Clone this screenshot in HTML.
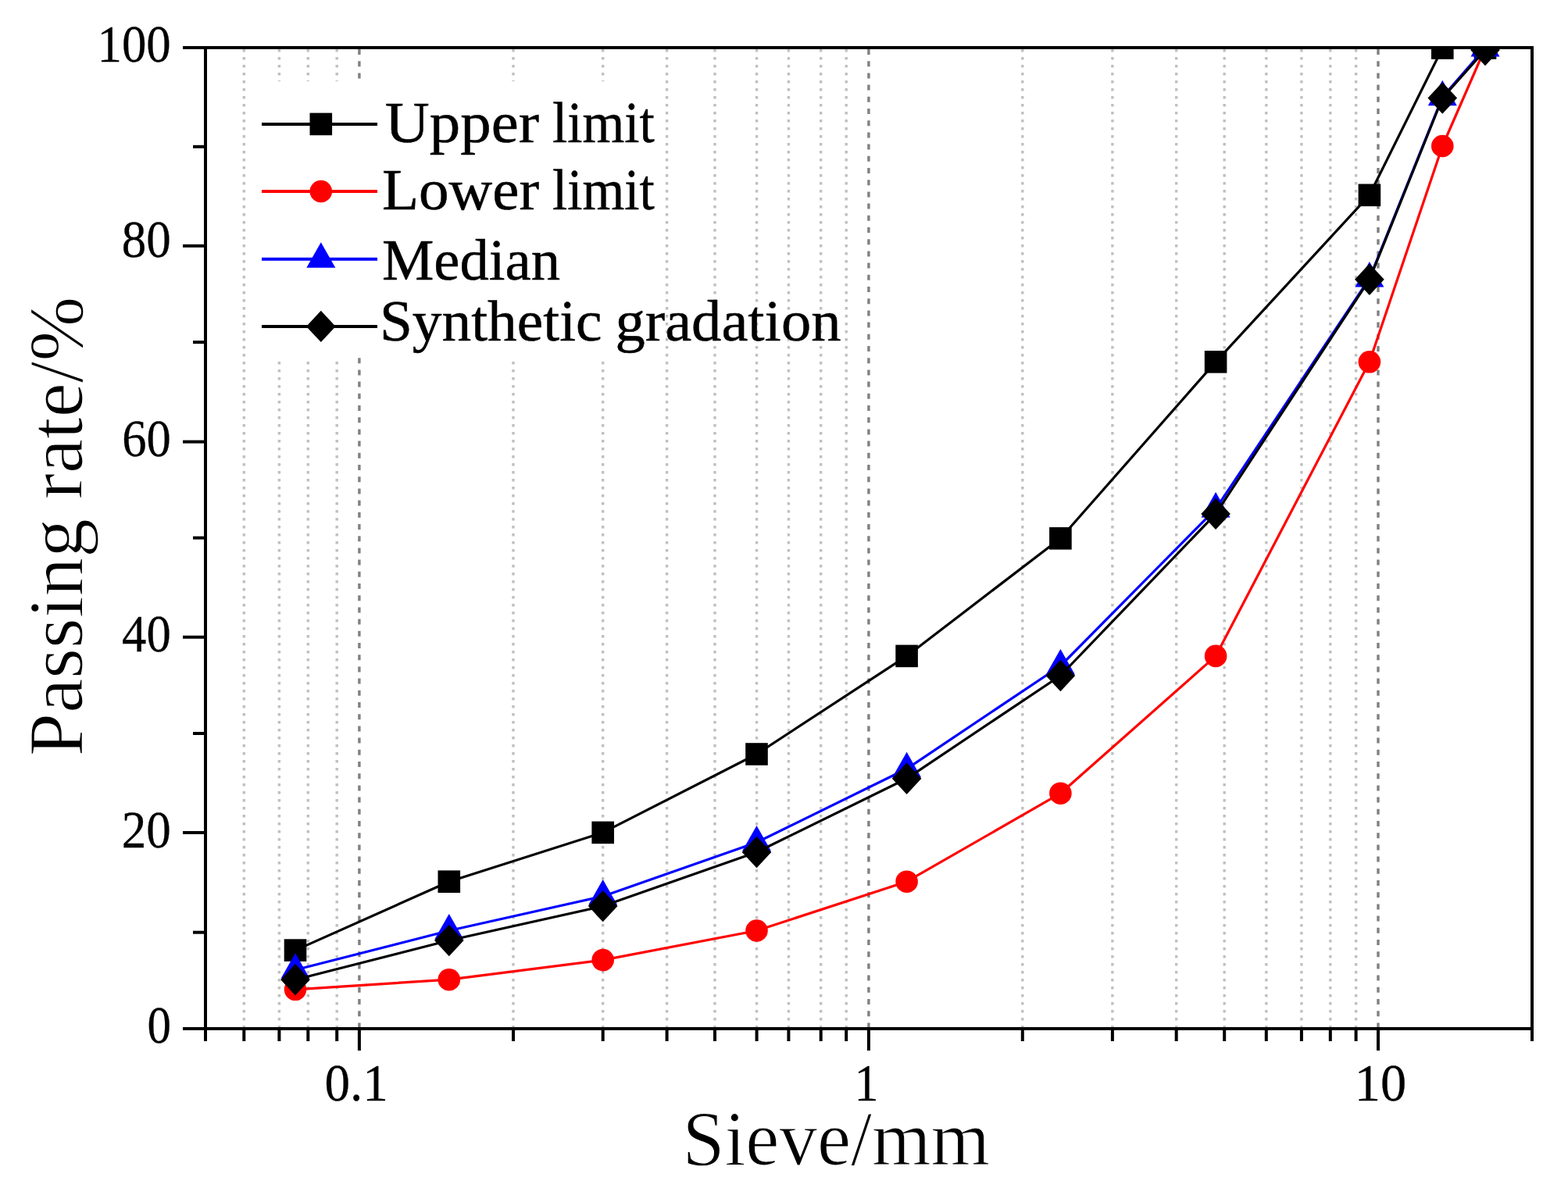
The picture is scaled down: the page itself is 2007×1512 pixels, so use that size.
<!DOCTYPE html>
<html><head><meta charset="utf-8"><title>Gradation curve</title>
<style>
html,body{margin:0;padding:0;background:#fff;}
body{width:2007px;height:1512px;overflow:hidden;}
svg{display:block;}
text{font-family:"Liberation Serif","Times New Roman",serif;fill:#000;}
</style></head><body>

<svg width="2007" height="1512" viewBox="0 0 2007 1512">
<rect width="2007" height="1512" fill="#fff"/>
<defs><clipPath id="pa"><rect x="263" y="61" width="1698" height="1256"/></clipPath></defs>
<g stroke-width="3.4" fill="none"><line x1="312.3" y1="63" x2="312.3" y2="1315" stroke="#c0c0c0" stroke-dasharray="3.4 6.6"/><line x1="357.4" y1="63" x2="357.4" y2="1315" stroke="#c0c0c0" stroke-dasharray="3.4 6.6"/><line x1="394.3" y1="63" x2="394.3" y2="1315" stroke="#c0c0c0" stroke-dasharray="3.4 6.6"/><line x1="431.2" y1="63" x2="431.2" y2="1315" stroke="#c0c0c0" stroke-dasharray="3.4 6.6"/><line x1="657" y1="63" x2="657" y2="1315" stroke="#c0c0c0" stroke-dasharray="3.4 6.6"/><line x1="771.7" y1="63" x2="771.7" y2="1315" stroke="#c0c0c0" stroke-dasharray="3.4 6.6"/><line x1="853.6" y1="63" x2="853.6" y2="1315" stroke="#c0c0c0" stroke-dasharray="3.4 6.6"/><line x1="915" y1="63" x2="915" y2="1315" stroke="#c0c0c0" stroke-dasharray="3.4 6.6"/><line x1="968.6" y1="63" x2="968.6" y2="1315" stroke="#c0c0c0" stroke-dasharray="3.4 6.6"/><line x1="1009.4" y1="63" x2="1009.4" y2="1315" stroke="#c0c0c0" stroke-dasharray="3.4 6.6"/><line x1="1050.7" y1="63" x2="1050.7" y2="1315" stroke="#c0c0c0" stroke-dasharray="3.4 6.6"/><line x1="1083.2" y1="63" x2="1083.2" y2="1315" stroke="#c0c0c0" stroke-dasharray="3.4 6.6"/><line x1="1308.8" y1="63" x2="1308.8" y2="1315" stroke="#c0c0c0" stroke-dasharray="3.4 6.6"/><line x1="1423.9" y1="63" x2="1423.9" y2="1315" stroke="#c0c0c0" stroke-dasharray="3.4 6.6"/><line x1="1505.7" y1="63" x2="1505.7" y2="1315" stroke="#c0c0c0" stroke-dasharray="3.4 6.6"/><line x1="1567.2" y1="63" x2="1567.2" y2="1315" stroke="#c0c0c0" stroke-dasharray="3.4 6.6"/><line x1="1620.8" y1="63" x2="1620.8" y2="1315" stroke="#c0c0c0" stroke-dasharray="3.4 6.6"/><line x1="1665.9" y1="63" x2="1665.9" y2="1315" stroke="#c0c0c0" stroke-dasharray="3.4 6.6"/><line x1="1702.8" y1="63" x2="1702.8" y2="1315" stroke="#c0c0c0" stroke-dasharray="3.4 6.6"/><line x1="1735.6" y1="63" x2="1735.6" y2="1315" stroke="#c0c0c0" stroke-dasharray="3.4 6.6"/><line x1="459.9" y1="63" x2="459.9" y2="1315" stroke="#808080" stroke-dasharray="7 8.2"/><line x1="1111.9" y1="63" x2="1111.9" y2="1315" stroke="#808080" stroke-dasharray="7 8.2"/><line x1="1764" y1="63" x2="1764" y2="1315" stroke="#808080" stroke-dasharray="7 8.2"/></g>
<rect x="330" y="104" width="515" height="353" fill="#fff"/>
<g clip-path="url(#pa)"><polyline points="378,1216.6 574.8,1128.7 771.7,1065.9 968.5,965.5 1160.6,839.9 1357.4,689.2 1556.1,463.3 1752.9,249.8 1846.3,61.5 1901,61.5" fill="none" stroke="#000" stroke-width="3.2" stroke-linejoin="round"/><rect x="363.7" y="1202.3" width="28.6" height="28.6" fill="#000"/><rect x="560.5" y="1114.4" width="28.6" height="28.6" fill="#000"/><rect x="757.4" y="1051.6" width="28.6" height="28.6" fill="#000"/><rect x="954.2" y="951.2" width="28.6" height="28.6" fill="#000"/><rect x="1146.3" y="825.6" width="28.6" height="28.6" fill="#000"/><rect x="1343.1" y="675" width="28.6" height="28.6" fill="#000"/><rect x="1541.8" y="449" width="28.6" height="28.6" fill="#000"/><rect x="1738.6" y="235.5" width="28.6" height="28.6" fill="#000"/><rect x="1832" y="47.2" width="28.6" height="28.6" fill="#000"/><rect x="1886.7" y="47.2" width="28.6" height="28.6" fill="#000"/><polyline points="378,1266.8 574.8,1254.2 771.7,1229.1 968.5,1191.5 1160.6,1128.7 1357.4,1015.7 1556.1,839.9 1752.9,463.3 1846.3,187 1901,61.5" fill="none" stroke="#f00" stroke-width="3.2" stroke-linejoin="round"/><circle cx="378" cy="1266.8" r="14.3" fill="#f00"/><circle cx="574.8" cy="1254.2" r="14.3" fill="#f00"/><circle cx="771.7" cy="1229.1" r="14.3" fill="#f00"/><circle cx="968.5" cy="1191.5" r="14.3" fill="#f00"/><circle cx="1160.6" cy="1128.7" r="14.3" fill="#f00"/><circle cx="1357.4" cy="1015.7" r="14.3" fill="#f00"/><circle cx="1556.1" cy="839.9" r="14.3" fill="#f00"/><circle cx="1752.9" cy="463.3" r="14.3" fill="#f00"/><circle cx="1846.3" cy="187" r="14.3" fill="#f00"/><circle cx="1901" cy="61.5" r="14.3" fill="#f00"/><polyline points="378,1241.7 574.8,1191.5 771.7,1147.5 968.5,1078.5 1160.6,984.3 1357.4,852.5 1556.1,651.6 1752.9,356.5 1846.3,124.3 1901,61.5" fill="none" stroke="#00f" stroke-width="3.2" stroke-linejoin="round"/><polygon points="378,1220.2 396.5,1252.7 359.5,1252.7" fill="#00f"/><polygon points="574.8,1170 593.3,1202.5 556.3,1202.5" fill="#00f"/><polygon points="771.7,1126 790.2,1158.5 753.2,1158.5" fill="#00f"/><polygon points="968.5,1057 987,1089.5 950,1089.5" fill="#00f"/><polygon points="1160.6,962.8 1179.1,995.3 1142.1,995.3" fill="#00f"/><polygon points="1357.4,831 1375.9,863.5 1338.9,863.5" fill="#00f"/><polygon points="1556.1,630.1 1574.6,662.6 1537.6,662.6" fill="#00f"/><polygon points="1752.9,335 1771.4,367.5 1734.4,367.5" fill="#00f"/><polygon points="1846.3,102.8 1864.8,135.3 1827.8,135.3" fill="#00f"/><polygon points="1901,40 1919.5,72.5 1882.5,72.5" fill="#00f"/><polyline points="378,1254.2 574.8,1204 771.7,1160.1 968.5,1091 1160.6,996.8 1357.4,865 1556.1,657.9 1752.9,357.8 1846.3,125.5 1901,64" fill="none" stroke="#000" stroke-width="3.2" stroke-linejoin="round"/><polygon points="378,1234 396.8,1254.2 378,1274.4 359.2,1254.2" fill="#000"/><polygon points="574.8,1183.8 593.6,1204 574.8,1224.2 556,1204" fill="#000"/><polygon points="771.7,1139.9 790.5,1160.1 771.7,1180.3 752.9,1160.1" fill="#000"/><polygon points="968.5,1070.8 987.3,1091 968.5,1111.2 949.7,1091" fill="#000"/><polygon points="1160.6,976.6 1179.4,996.8 1160.6,1017 1141.8,996.8" fill="#000"/><polygon points="1357.4,844.8 1376.2,865 1357.4,885.2 1338.6,865" fill="#000"/><polygon points="1556.1,637.7 1574.9,657.9 1556.1,678.1 1537.3,657.9" fill="#000"/><polygon points="1752.9,337.6 1771.7,357.8 1752.9,378 1734.1,357.8" fill="#000"/><polygon points="1846.3,105.3 1865.1,125.5 1846.3,145.7 1827.5,125.5" fill="#000"/><polygon points="1901,43.8 1919.8,64 1901,84.2 1882.2,64" fill="#000"/></g>
<g><line x1="335" y1="158.9" x2="483" y2="158.9" stroke="#000" stroke-width="4"/><rect x="396.5" y="144.6" width="28.6" height="28.6" fill="#000"/><line x1="335" y1="245" x2="483" y2="245" stroke="#f00" stroke-width="4"/><circle cx="410.8" cy="245" r="14.3" fill="#f00"/><line x1="335" y1="331.7" x2="483" y2="331.7" stroke="#00f" stroke-width="4"/><polygon points="410.8,310.2 429.3,342.7 392.3,342.7" fill="#00f"/><line x1="335" y1="417.9" x2="483" y2="417.9" stroke="#000" stroke-width="4"/><polygon points="410.8,397.7 429.6,417.9 410.8,438.1 392,417.9" fill="#000"/><text transform="translate(492.87 181.50) scale(1.0659 1)" font-size="74" stroke="#000" stroke-width="0.5">Upper</text><text transform="translate(707.07 181.50) scale(0.9348 1)" font-size="74" stroke="#000" stroke-width="0.5">limit</text><text transform="translate(488.92 267.60) scale(1.0421 1)" font-size="74" stroke="#000" stroke-width="0.5">Lower</text><text transform="translate(707.07 267.60) scale(0.9348 1)" font-size="74" stroke="#000" stroke-width="0.5">limit</text><text transform="translate(488.98 358.00) scale(1.0090 1)" font-size="74" stroke="#000" stroke-width="0.5">Median</text><text transform="translate(485.91 435.50) scale(1.0184 1)" font-size="74" stroke="#000" stroke-width="0.5">Synthetic</text><text transform="translate(787.40 435.50) scale(1.0345 1)" font-size="74" stroke="#000" stroke-width="0.5">gradation</text></g>
<g stroke="#000" stroke-width="4.0" fill="none" stroke-linecap="square"><rect x="263" y="61" width="1698" height="1256"/><line x1="236" y1="1317" x2="263" y2="1317"/><line x1="249" y1="1193.7" x2="263" y2="1193.7"/><line x1="236" y1="1066" x2="263" y2="1066"/><line x1="249" y1="939" x2="263" y2="939"/><line x1="236" y1="815.7" x2="263" y2="815.7"/><line x1="249" y1="688.6" x2="263" y2="688.6"/><line x1="236" y1="565.6" x2="263" y2="565.6"/><line x1="249" y1="438.1" x2="263" y2="438.1"/><line x1="236" y1="314.8" x2="263" y2="314.8"/><line x1="249" y1="187.8" x2="263" y2="187.8"/><line x1="236" y1="61" x2="263" y2="61"/><line x1="263" y1="1317" x2="263" y2="1331"/><line x1="312.3" y1="1317" x2="312.3" y2="1331"/><line x1="357.4" y1="1317" x2="357.4" y2="1331"/><line x1="394.3" y1="1317" x2="394.3" y2="1331"/><line x1="431.2" y1="1317" x2="431.2" y2="1331"/><line x1="657" y1="1317" x2="657" y2="1331"/><line x1="771.7" y1="1317" x2="771.7" y2="1331"/><line x1="853.6" y1="1317" x2="853.6" y2="1331"/><line x1="915" y1="1317" x2="915" y2="1331"/><line x1="968.6" y1="1317" x2="968.6" y2="1331"/><line x1="1009.4" y1="1317" x2="1009.4" y2="1331"/><line x1="1050.7" y1="1317" x2="1050.7" y2="1331"/><line x1="1083.2" y1="1317" x2="1083.2" y2="1331"/><line x1="1308.8" y1="1317" x2="1308.8" y2="1331"/><line x1="1423.9" y1="1317" x2="1423.9" y2="1331"/><line x1="1505.7" y1="1317" x2="1505.7" y2="1331"/><line x1="1567.2" y1="1317" x2="1567.2" y2="1331"/><line x1="1620.8" y1="1317" x2="1620.8" y2="1331"/><line x1="1665.9" y1="1317" x2="1665.9" y2="1331"/><line x1="1702.8" y1="1317" x2="1702.8" y2="1331"/><line x1="1735.6" y1="1317" x2="1735.6" y2="1331"/><line x1="1961" y1="1317" x2="1961" y2="1331"/><line x1="459.9" y1="1317" x2="459.9" y2="1343"/><line x1="1111.9" y1="1317" x2="1111.9" y2="1343"/><line x1="1764" y1="1317" x2="1764" y2="1343"/></g>
<g><text transform="translate(124.45 78.90) scale(0.9247 1)" font-size="68" stroke="#000" stroke-width="0.3">100</text><text transform="translate(155.72 329.20) scale(0.9274 1)" font-size="68" stroke="#000" stroke-width="0.3">80</text><text transform="translate(156.14 583.50) scale(0.9210 1)" font-size="68" stroke="#000" stroke-width="0.3">60</text><text transform="translate(156.08 834.20) scale(0.9219 1)" font-size="68" stroke="#000" stroke-width="0.3">40</text><text transform="translate(155.72 1084.80) scale(0.9274 1)" font-size="68" stroke="#000" stroke-width="0.3">20</text><text transform="translate(188.41 1334.50) scale(0.8964 1)" font-size="68" stroke="#000" stroke-width="0.3">0</text><text transform="translate(415.43 1408.50) scale(0.9577 1)" font-size="68" stroke="#000" stroke-width="0.3">0.1</text><text transform="translate(1093.53 1408.70) scale(0.9125 1)" font-size="68" stroke="#000" stroke-width="0.3">1</text><text transform="translate(1733.74 1408.80) scale(0.9763 1)" font-size="68" stroke="#000" stroke-width="0.3">10</text></g>
<text transform="translate(873.40 1490.50) scale(0.9708 1)" font-size="100" stroke="#fff" stroke-width="1.2">Sieve/mm</text>
<text transform="translate(105.30 968.19) rotate(-90) scale(0.9950 1)" font-size="100" stroke="#fff" stroke-width="1.2">Passing rate/%</text>
</svg>
</body></html>
